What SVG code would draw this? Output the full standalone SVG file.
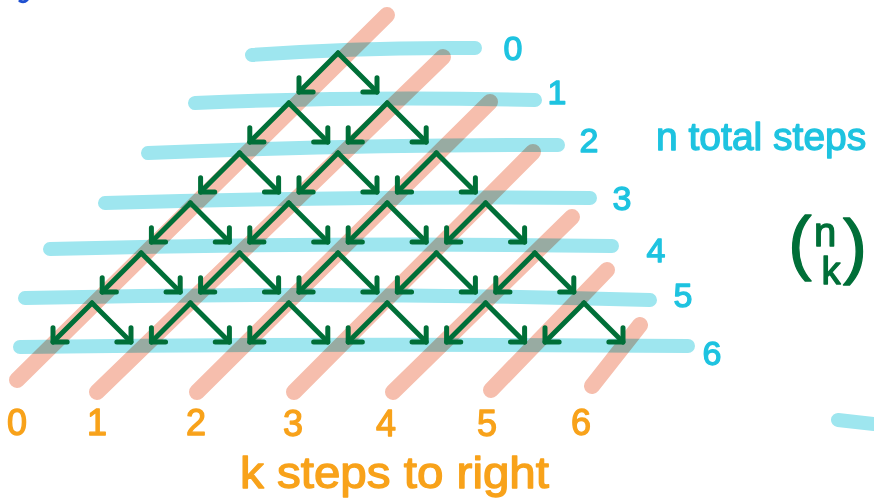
<svg xmlns="http://www.w3.org/2000/svg" width="874" height="504" viewBox="0 0 874 504">
<style>
.row{fill:none;stroke:#9ee6ef;stroke-width:14;stroke-linecap:round}
.diag{fill:none;stroke:#f6bead;stroke-width:16;stroke-linecap:round}
.salmon{mix-blend-mode:multiply}
.arr{fill:none;stroke:#006f38;stroke-width:5;stroke-linecap:round;marker-end:url(#ah)}
.t{font-family:"Liberation Sans","DejaVu Sans",sans-serif;stroke-linejoin:round}
.blue{fill:#1ec3e0;stroke:#1ec3e0;stroke-width:1.3}
.orange{fill:#f8a21a;stroke:#f8a21a;stroke-width:1.3}
.green{fill:#006f38;stroke:#006f38;stroke-width:1.3}
</style>
<defs>
<marker id="ah" markerUnits="userSpaceOnUse" markerWidth="30" markerHeight="30" viewBox="-15 -15 30 30" refX="0" refY="0" orient="auto" overflow="visible">
<path d="M-10,-10 L0,0 L-10,10" fill="none" stroke="#006f38" stroke-width="5" stroke-linecap="round" stroke-linejoin="round"/>
</marker>
</defs>
<rect width="874" height="504" fill="#ffffff"/>
<path d="M20,1 Q24,3 27,0" fill="none" stroke="#1f50d0" stroke-width="3" stroke-linecap="round"/>
<g id="rows">
<path class="row" d="M252,55 Q360,47 475,48"/>
<path class="row" d="M195,103 Q360,96 535,100"/>
<path class="row" d="M148,153 Q350,145 558,145"/>
<path class="row" d="M105,203 Q350,196 590,198"/>
<path class="row" d="M50,249 Q330,242 612,246"/>
<path class="row" d="M25,298 Q340,291 650,300"/>
<path class="row" d="M20,347 Q350,343 688,346"/>
<path class="row" d="M838,420 L874,424"/>
</g>
<g id="diagonals" class="salmon">
<path class="diag" d="M17,380 L387,15"/>
<path class="diag" d="M97,392 L443,57"/>
<path class="diag" d="M197,392 L490,102"/>
<path class="diag" d="M294,392 L533,152"/>
<path class="diag" d="M393,392 L572,217"/>
<path class="diag" d="M491,390 L607,270"/>
<path class="diag" d="M592,386 L640,325"/>
</g>
<g id="connectors">
<path class="arr" d="M338,53 l-39,39"/><path class="arr" d="M338,53 l39,39"/>
<path class="arr" d="M288.8,103 l-39,39"/><path class="arr" d="M288.8,103 l39,39"/>
<path class="arr" d="M387.2,103 l-39,39"/><path class="arr" d="M387.2,103 l39,39"/>
<path class="arr" d="M239.6,153 l-39,39"/><path class="arr" d="M239.6,153 l39,39"/>
<path class="arr" d="M338,153 l-39,39"/><path class="arr" d="M338,153 l39,39"/>
<path class="arr" d="M436.4,153 l-39,39"/><path class="arr" d="M436.4,153 l39,39"/>
<path class="arr" d="M190.4,203 l-39,39"/><path class="arr" d="M190.4,203 l39,39"/>
<path class="arr" d="M288.8,203 l-39,39"/><path class="arr" d="M288.8,203 l39,39"/>
<path class="arr" d="M387.2,203 l-39,39"/><path class="arr" d="M387.2,203 l39,39"/>
<path class="arr" d="M485.6,203 l-39,39"/><path class="arr" d="M485.6,203 l39,39"/>
<path class="arr" d="M141.2,253 l-39,39"/><path class="arr" d="M141.2,253 l39,39"/>
<path class="arr" d="M239.6,253 l-39,39"/><path class="arr" d="M239.6,253 l39,39"/>
<path class="arr" d="M338,253 l-39,39"/><path class="arr" d="M338,253 l39,39"/>
<path class="arr" d="M436.4,253 l-39,39"/><path class="arr" d="M436.4,253 l39,39"/>
<path class="arr" d="M534.8,253 l-39,39"/><path class="arr" d="M534.8,253 l39,39"/>
<path class="arr" d="M92,303 l-39,39"/><path class="arr" d="M92,303 l39,39"/>
<path class="arr" d="M190.4,303 l-39,39"/><path class="arr" d="M190.4,303 l39,39"/>
<path class="arr" d="M288.8,303 l-39,39"/><path class="arr" d="M288.8,303 l39,39"/>
<path class="arr" d="M387.2,303 l-39,39"/><path class="arr" d="M387.2,303 l39,39"/>
<path class="arr" d="M485.6,303 l-39,39"/><path class="arr" d="M485.6,303 l39,39"/>
<path class="arr" d="M584,303 l-39,39"/><path class="arr" d="M584,303 l39,39"/>
</g>
<g id="row-labels" class="t blue" font-size="34" text-anchor="middle">
<text x="513" y="60">0</text>
<text x="557" y="104">1</text>
<text x="589" y="152">2</text>
<text x="622" y="210">3</text>
<text x="656" y="262">4</text>
<text x="683" y="307">5</text>
<text x="712" y="365">6</text>
</g>
<g id="n-label"><text class="t blue" x="656" y="150" font-size="39">n total steps</text></g>
<g id="k-labels" class="t orange" font-size="36" text-anchor="middle">
<text x="17" y="435">0</text>
<text x="97" y="435">1</text>
<text x="196" y="435">2</text>
<text x="293" y="436">3</text>
<text x="386" y="436">4</text>
<text x="487" y="436">5</text>
<text x="581" y="435">6</text>
</g>
<g id="k-label"><text class="t orange" x="240" y="488" font-size="44" textLength="309" lengthAdjust="spacingAndGlyphs">k steps to right</text></g>
<g id="binomial" class="t green" text-anchor="middle">
<text x="800" y="266" font-size="70">(</text>
<text x="855" y="270" font-size="72">)</text>
<text x="825" y="246" font-size="40">n</text>
<text x="831" y="284" font-size="38">k</text>
</g>
</svg>
